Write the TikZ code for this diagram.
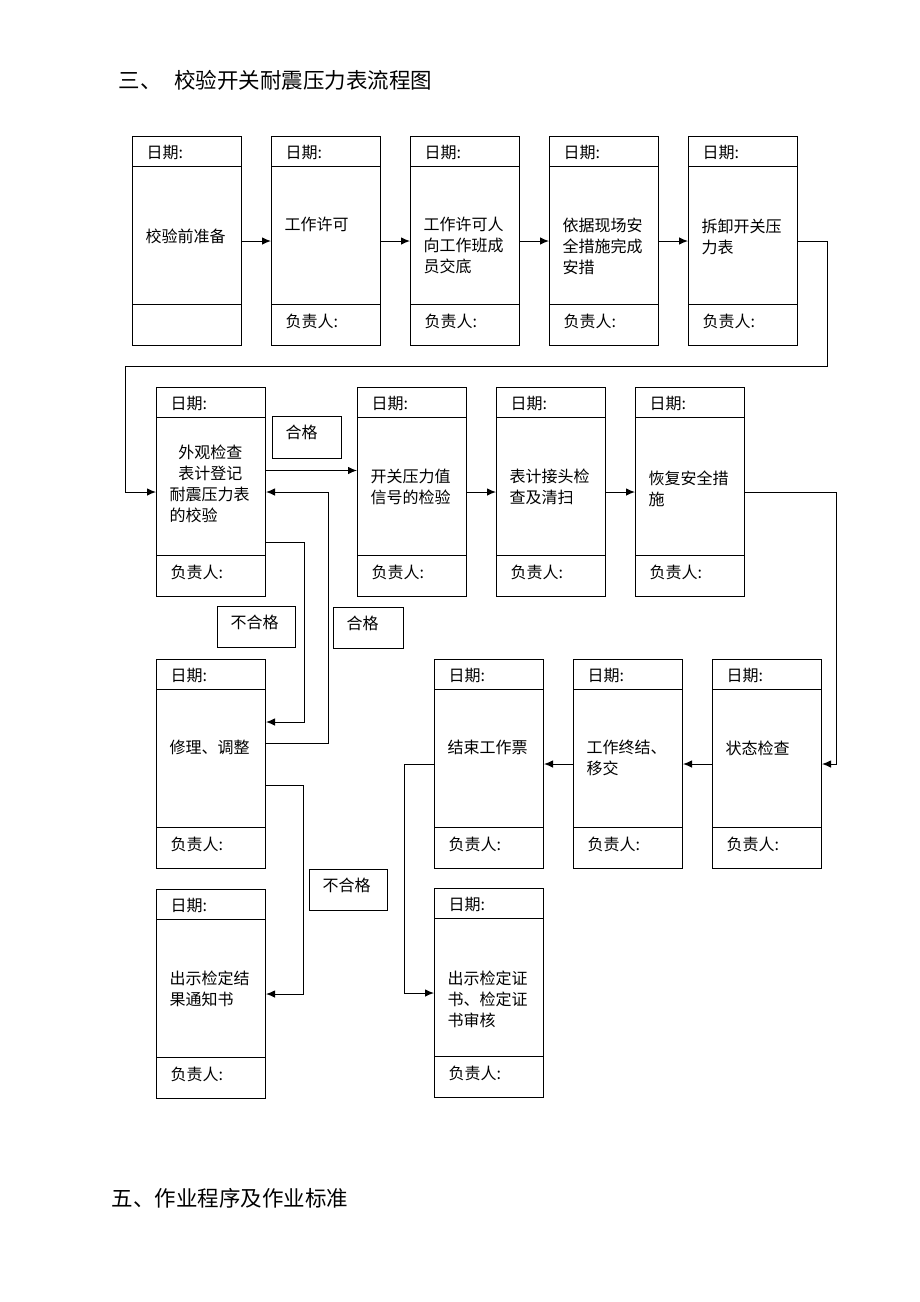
\documentclass[tikz,border=0pt]{standalone}
\usepackage{fontspec}
\setmainfont{Noto Sans CJK SC}
\usetikzlibrary{arrows.meta}

% one step: name, x, y (top left), offset of body top, body, bottom text
\newcommand{\flowcard}[6]{%
  \node[card, anchor=north west] (#1) at (#2,#3) {};
  \draw ([yshift=-30pt]#1.north west) -- ([yshift=-30pt]#1.north east);
  \draw ([yshift=42pt]#1.south west) -- ([yshift=42pt]#1.south east);
  \node[cardtext, anchor=base west] at ([xshift=14pt,yshift=-22.5pt]#1.north west) {日期:};
  \node[cardtext, anchor=north west] at ([xshift=13pt,yshift=-#4pt]#1.north west) {#5};
  \node[cardtext, anchor=base west] at ([xshift=14pt,yshift=19pt]#1.south west) {#6};
}

\begin{document}
\begin{tikzpicture}[x=1pt, y=-1pt, line width=1pt,
    card/.style={draw, minimum width=109pt, minimum height=209pt, inner sep=0pt},
    cardtext/.style={font=\fontsize{16}{21}\selectfont, align=left, inner sep=0pt},
    tagbox/.style={draw, anchor=north west, inner sep=0pt},
    flow/.style={-{Latex[length=9pt,width=7.5pt]}},
    heading/.style={font=\fontsize{21.5}{26}\selectfont, anchor=base west, inner sep=0pt}]

	\useasboundingbox (0,0) rectangle (920,1302);

	\node[heading] (title) at (118,88) {三、\hspace{13pt}校验开关耐震压力表流程图};
	\node[heading] (next) at (111,1206) {五、作业程序及作业标准};

	% first row
	\flowcard{c1}{132}{136}{92}{校验前准备}{}
	\flowcard{c2}{271}{136}{81}{工作许可}{负责人:}
	\flowcard{c3}{410}{136}{81}{工作许可人\\向工作班成\\员交底}{负责人:}
	\flowcard{c4}{549}{136}{82}{依据现场安\\全措施完成\\安措}{负责人:}
	\flowcard{c5}{688}{136}{82}{拆卸开关压\\力表}{负责人:}

	% second row
	\flowcard{c6}{156}{387}{57}{\hspace*{0.55em}外观检查\\\hspace*{0.55em}表计登记\\耐震压力表\\的校验}{负责人:}
	\flowcard{c7}{357}{387}{82}{开关压力值\\信号的检验}{负责人:}
	\flowcard{c8}{496}{387}{81}{表计接头检\\查及清扫}{负责人:}
	\flowcard{c9}{635}{387}{83}{恢复安全措\\施}{负责人:}

	% third row
	\flowcard{c10}{156}{659}{81}{修理、调整}{负责人:}
	\flowcard{c11}{434}{659}{81}{结束工作票}{负责人:}
	\flowcard{c12}{573}{659}{81}{工作终结、\\移交}{负责人:}
	\flowcard{c13}{712}{659}{81}{状态检查}{负责人:}

	% fourth row
	\flowcard{c14}{156}{889}{81}{出示检定结\\果通知书}{负责人:}
	\flowcard{c15}{434}{888}{82}{出示检定证\\书、检定证\\书审核}{负责人:}

	% pass / fail tags
	\node[tagbox, minimum width=69pt, minimum height=42pt] (pass1) at (272,416) {};
	\node[cardtext, anchor=base west] at ([xshift=13pt,yshift=-22pt]pass1.north west) {合格};
	\node[tagbox, minimum width=78pt, minimum height=41pt] (fail1) at (217,606) {};
	\node[cardtext, anchor=base west] at ([xshift=13pt,yshift=-22pt]fail1.north west) {不合格};
	\node[tagbox, minimum width=70pt, minimum height=41pt] (pass2) at (333,607) {};
	\node[cardtext, anchor=base west] at ([xshift=13pt,yshift=-22pt]pass2.north west) {合格};
	\node[tagbox, minimum width=78pt, minimum height=41pt] (fail2) at (309,869) {};
	\node[cardtext, anchor=base west] at ([xshift=13pt,yshift=-22pt]fail2.north west) {不合格};

	\coordinate (turnR) at (827,366);
	\coordinate (turnL) at (125,366);

	% connectors
	\draw[flow] (c1.east) -- (c2.west);
	\draw[flow] (c2.east) -- (c3.west);
	\draw[flow] (c3.east) -- (c4.west);
	\draw[flow] (c4.east) -- (c5.west);
	\draw[flow] (c5.east) -| (turnR) -- (turnL) |- (c6.west);
	\draw[flow] ([yshift=21.5pt]c6.east) -- ([yshift=21.5pt]c7.west);
	\draw[flow] (c7.east) -- (c8.west);
	\draw[flow] (c8.east) -- (c9.west);
	\draw[flow] ([yshift=-50.5pt]c6.east) -| ([xshift=38pt,yshift=42pt]c10.east) -- ([yshift=42pt]c10.east);
	\draw[flow] ([yshift=21pt]c10.east) -| ([xshift=62pt]c6.east) -- (c6.east);
	\draw[flow] (c9.east) -| ([xshift=14pt]c13.east) -- (c13.east);
	\draw[flow] (c13.west) -- (c12.east);
	\draw[flow] (c12.west) -- (c11.east);
	\draw[flow] (c11.west) -| ([xshift=-30pt]c15.west) -- (c15.west);
	\draw[flow] ([yshift=-21.5pt]c10.east) -| ([xshift=37pt]c14.east) -- (c14.east);

\end{tikzpicture}
\end{document}
